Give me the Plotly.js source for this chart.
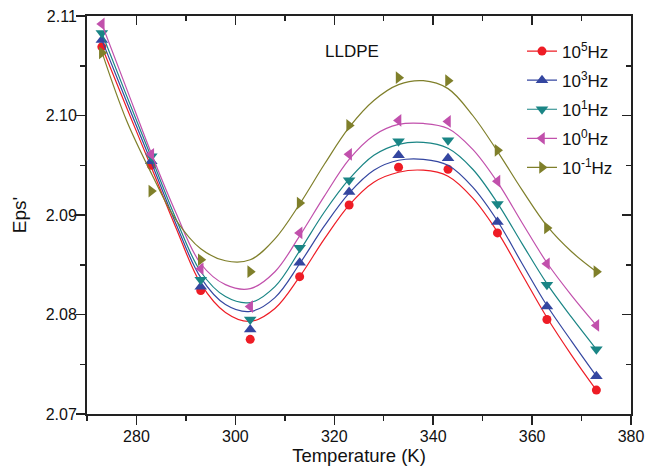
<!DOCTYPE html>
<html><head><meta charset="utf-8">
<script src="https://cdn.plot.ly/plotly-3.0.1.min.js"></script>
<style>html,body{margin:0;padding:0;background:#fff}#chart{width:658px;height:472px}</style>
</head><body><div id="chart"></div>
<script>
// Measured points
const temperature = [273, 283, 293, 303, 313, 323, 333, 343, 353, 363, 373];
const eps_1e5  = [2.1069, 2.0950, 2.0824, 2.0775, 2.0838, 2.0910, 2.0948, 2.0946, 2.0882, 2.0795, 2.0724];
const eps_1e3  = [2.1076, 2.0954, 2.0828, 2.0785, 2.0852, 2.0923, 2.0960, 2.0957, 2.0893, 2.0808, 2.0738];
const eps_1e1  = [2.1083, 2.0959, 2.0835, 2.0795, 2.0867, 2.0935, 2.0974, 2.0975, 2.0911, 2.0830, 2.0765];
const eps_1e0  = [2.1092, 2.0961, 2.0846, 2.0808, 2.0882, 2.0961, 2.0995, 2.0994, 2.0934, 2.0851, 2.0789];
const eps_1em1 = [2.1063, 2.0924, 2.0855, 2.0843, 2.0912, 2.0990, 2.1038, 2.1035, 2.0965, 2.0887, 2.0843];

// Smoothed fit curves
const fitTemperature = [273, 278, 283, 288, 293, 298, 303, 308, 313, 318, 323, 328, 333, 338, 343, 348, 353, 358, 363, 368, 373];
const fit_1e5  = [2.1069, 2.1008, 2.0948, 2.0887, 2.0831, 2.0802, 2.0793, 2.0806, 2.0838, 2.0876, 2.0910, 2.0933, 2.0943, 2.0945, 2.0939, 2.0917, 2.0883, 2.0840, 2.0797, 2.0759, 2.0724];
const fit_1e3  = [2.1076, 2.1014, 2.0953, 2.0891, 2.0837, 2.0810, 2.0803, 2.0817, 2.0851, 2.0889, 2.0922, 2.0945, 2.0955, 2.0956, 2.0950, 2.0928, 2.0894, 2.0851, 2.0809, 2.0773, 2.0738];
const fit_1e1  = [2.1083, 2.1020, 2.0958, 2.0896, 2.0843, 2.0818, 2.0812, 2.0828, 2.0864, 2.0903, 2.0936, 2.0960, 2.0971, 2.0973, 2.0967, 2.0946, 2.0912, 2.0871, 2.0831, 2.0797, 2.0765];
const fit_1e0  = [2.1092, 2.1027, 2.0962, 2.0902, 2.0851, 2.0830, 2.0826, 2.0843, 2.0879, 2.0919, 2.0956, 2.0980, 2.0991, 2.0992, 2.0987, 2.0966, 2.0933, 2.0892, 2.0852, 2.0819, 2.0789];
const fit_1em1 = [2.1064, 2.0995, 2.0942, 2.0895, 2.0866, 2.0854, 2.0855, 2.0876, 2.0911, 2.0951, 2.0988, 2.1015, 2.1031, 2.1035, 2.1027, 2.1000, 2.0964, 2.0925, 2.0889, 2.0863, 2.0843];

const seriesNames = ['10<sup>5</sup>Hz', '10<sup>3</sup>Hz', '10<sup>1</sup>Hz', '10<sup>0</sup>Hz', '10<sup>-1</sup>Hz'];
const xTickVals = [280, 300, 320, 340, 360, 380];
const yTickVals = [2.07, 2.08, 2.09, 2.10, 2.11];

const pointSets = [eps_1e5, eps_1e3, eps_1e1, eps_1e0, eps_1em1];
const fitSets = [fit_1e5, fit_1e3, fit_1e1, fit_1e0, fit_1em1];
const colors = ['#ee1c25', '#3446a0', '#1a8585', '#c150ac', '#7f7f2a'];
const symbols = ['circle', 'triangle-up', 'triangle-down', 'triangle-left', 'triangle-right'];
const sizes = [9, 11, 11, 11, 11];

const traces = [];
for (let i = 0; i < 5; i++) {
  traces.push({
    x: fitTemperature, y: fitSets[i], mode: 'lines', type: 'scatter',
    line: {color: colors[i], width: 1.2, shape: 'spline', smoothing: 1},
    showlegend: false, hoverinfo: 'skip'
  });
  traces.push({
    x: temperature, y: pointSets[i], mode: 'markers', type: 'scatter',
    marker: {color: colors[i], symbol: symbols[i], size: sizes[i]},
    showlegend: false
  });
  traces.push({
    x: [null], y: [null], mode: 'lines+markers', type: 'scatter', name: seriesNames[i],
    legendgroup: 'g' + i,
    line: {color: colors[i], width: 1.2},
    marker: {color: colors[i], symbol: symbols[i], size: sizes[i]},
    showlegend: true
  });
}
traces.push({x: [270], y: [2.07], xaxis: 'x2', yaxis: 'y2', mode: 'markers', marker: {opacity: 0}, showlegend: false, hoverinfo: 'skip'});

const font = 'Liberation Sans, Arial, sans-serif';
const axisColor = '#222';
const layout = {
  width: 658, height: 472,
  margin: {l: 87, r: 27, t: 16, b: 58},
  paper_bgcolor: '#fff', plot_bgcolor: '#fff',
  font: {family: font, color: '#111'},
  showlegend: true,
  legend: {xref: 'paper', y: 0.956, xanchor: 'left', yanchor: 'top', bgcolor: 'rgba(0,0,0,0)', borderwidth: 0, tracegroupgap: 4, font: {size: 17, family: font, color: '#111'}, itemwidth: 30},
  xaxis: {
    range: [270, 380], tickvals: xTickVals, ticks: 'outside', ticklen: 9, tickwidth: 1.5, tickcolor: axisColor,
    minor: {dtick: 10, tick0: 270, ticks: 'outside', ticklen: 5, tickwidth: 1.5, tickcolor: axisColor},
    showline: true, linewidth: 2, linecolor: axisColor, showgrid: false, zeroline: false,
    tickfont: {size: 16, family: font, color: '#111'}, ticklabelstandoff: -2,
    title: {text: 'Temperature (K)', font: {size: 18.5, family: font, color: '#111'}, standoff: 2}
  },
  yaxis: {
    range: [2.07, 2.11], tickvals: yTickVals, tickformat: '.2f', ticks: 'outside', ticklen: 9, tickwidth: 1.5, tickcolor: axisColor,
    minor: {dtick: 0.005, tick0: 2.07, ticks: 'outside', ticklen: 5, tickwidth: 1.5, tickcolor: axisColor},
    showline: true, linewidth: 2, linecolor: axisColor, showgrid: false, zeroline: false,
    tickfont: {size: 16, family: font, color: '#111'}, ticklabelstandoff: -4,
    title: {text: "Eps'", font: {size: 19, family: font, color: '#111'}, standoff: 14}
  },
  xaxis2: {
    overlaying: 'x', side: 'top', anchor: 'y', range: [270, 380], tickvals: xTickVals, ticks: 'inside', ticklen: 9, tickwidth: 1.5, tickcolor: axisColor,
    minor: {dtick: 10, tick0: 270, ticks: 'inside', ticklen: 5, tickwidth: 1.5, tickcolor: axisColor},
    showticklabels: false, showline: true, linewidth: 2, linecolor: axisColor, showgrid: false, zeroline: false
  },
  yaxis2: {
    overlaying: 'y', side: 'right', anchor: 'x', range: [2.07, 2.11], tickvals: yTickVals, ticks: 'inside', ticklen: 9, tickwidth: 1.5, tickcolor: axisColor,
    minor: {dtick: 0.005, tick0: 2.07, ticks: 'inside', ticklen: 5, tickwidth: 1.5, tickcolor: axisColor},
    showticklabels: false, showline: true, linewidth: 2, linecolor: axisColor, showgrid: false, zeroline: false
  },
  annotations: [{text: 'LLDPE', x: 323.6, y: 2.1064, xref: 'x', yref: 'y', showarrow: false, font: {size: 17, family: font, color: '#111'}}]
};
layout.legend.x = (522 - 87) / (658 - 87 - 27);
Plotly.newPlot('chart', traces, layout, {displayModeBar: false, staticPlot: true});
</script></body></html>
